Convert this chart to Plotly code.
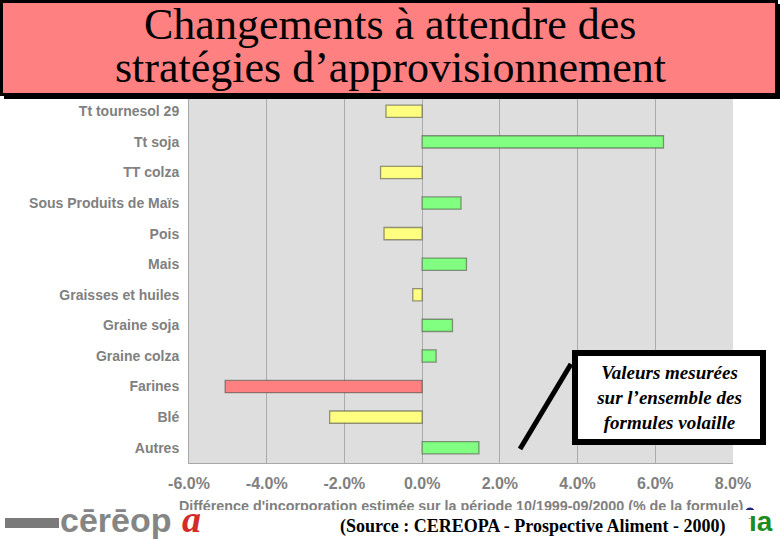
import plotly.graph_objects as go

# ---- data ----
categories = ["Tt tournesol 29", "Tt soja", "TT colza", "Sous Produits de Maïs", "Pois",
              "Mais", "Graisses et huiles", "Graine soja", "Graine colza", "Farines", "Blé", "Autres"]
values = [-0.93, 6.21, -1.07, 1.00, -0.98, 1.14, -0.24, 0.78, 0.36, -5.07, -2.38, 1.46]
x_ticks = [-6, -4, -2, 0, 2, 4, 6, 8]
x_tick_labels = ["-6.0%", "-4.0%", "-2.0%", "0.0%", "2.0%", "4.0%", "6.0%", "8.0%"]

title_line1 = "Changements à attendre des"
title_line2 = "stratégies d’approvisionnement"
axis_title = "Différence d'incorporation estimée sur la période 10/1999-09/2000 (% de la formule)"
note_text = "Valeurs mesurées<br>sur l’ensemble des<br>formules volaille"
source_text = "(Source : CEREOPA - Prospective Aliment - 2000)"

GREEN, YELLOW, RED = "#80FF80", "#FFFF80", "#FF8080"
colors = [GREEN if v >= 0 else (RED if v < -4 else YELLOW) for v in values]

W, H = 780, 540
L, R, T, B = 189, 47, 96, 77
PW, PH = W - L - R, H - T - B


def xp(px):
    return (px - L) / PW


def yp(py):
    return (H - B - py) / PH


fig = go.Figure(go.Bar(
    x=values, y=categories, orientation="h", width=0.4,
    marker=dict(color=colors, line=dict(color="rgba(70,70,60,0.55)", width=1.3)),
    hoverinfo="x+y",
))

gray = "#808080"
fig.update_layout(
    width=W, height=H,
    margin=dict(l=L, r=R, t=T, b=B),
    paper_bgcolor="white", plot_bgcolor="#DEDEDE",
    showlegend=False,
    font=dict(family="Liberation Sans, Arial", color=gray),
    xaxis=dict(range=[-6, 8], tickvals=x_ticks, ticktext=x_tick_labels,
               showgrid=True, gridcolor="#ABABAB", gridwidth=1, zeroline=False,
               showline=True, linecolor="#A8A8A8", linewidth=1,
               ticks="outside", ticklen=6, tickcolor="rgba(0,0,0,0)",
               tickfont=dict(size=16, color=gray, weight="bold"), fixedrange=True),
    yaxis=dict(categoryorder="array", categoryarray=categories, autorange="reversed",
               showgrid=False, zeroline=False, showline=True, linecolor="#A8A8A8", linewidth=1,
               ticks="outside", ticklen=6, tickcolor="rgba(0,0,0,0)",
               tickfont=dict(size=14, color=gray, weight="bold"), fixedrange=True),
)

shapes = [
    # title shadow + box
    dict(type="rect", xref="paper", yref="paper", x0=xp(4), x1=xp(780), y0=yp(4), y1=yp(99),
         fillcolor="black", line=dict(width=0), layer="above"),
    dict(type="rect", xref="paper", yref="paper", x0=xp(1.5), x1=xp(776.5), y0=yp(1.5), y1=yp(94.5),
         fillcolor="#FF8080", line=dict(color="black", width=3), layer="above"),
    # pointer line of the note
    dict(type="line", xref="paper", yref="paper", x0=xp(571), y0=yp(364), x1=xp(520), y1=yp(449),
         line=dict(color="black", width=5), layer="above"),
    # left logo bar (approximation)
    dict(type="rect", xref="paper", yref="paper", x0=xp(5), x1=xp(59), y0=yp(518), y1=yp(528),
         fillcolor="#7a7a7a", line=dict(width=0), layer="above"),
    # right logo dot
    dict(type="circle", xref="paper", yref="paper", x0=xp(745), x1=xp(755), y0=yp(518), y1=yp(508),
         fillcolor="#1A237E", line=dict(color="#1A237E", width=1), layer="above"),
]
fig.update_layout(shapes=shapes)

ann = []
# title lines
ann.append(dict(text=title_line1, xref="paper", yref="paper", x=xp(390), y=yp(24.5),
                xanchor="center", yanchor="middle", showarrow=False,
                font=dict(family="Liberation Serif, Times New Roman", size=44, color="black")))
ann.append(dict(text=title_line2, xref="paper", yref="paper", x=xp(390), y=yp(67),
                xanchor="center", yanchor="middle", showarrow=False,
                font=dict(family="Liberation Serif, Times New Roman", size=44, color="black")))
# x-axis title (partly hidden by the bottom strip)
ann.append(dict(text=axis_title, xref="paper", yref="paper", x=xp(461), y=yp(506.5),
                xanchor="center", yanchor="middle", showarrow=False,
                font=dict(family="Liberation Sans, Arial", size=14.3, color=gray, weight="bold")))
# white strip covering the lower part of the axis title
ann.append(dict(text=" ", xref="paper", yref="paper", x=xp(461), y=yp(509.5), width=590, height=8,
                xanchor="center", yanchor="top", showarrow=False, bgcolor="white",
                borderpad=0, borderwidth=0))
# note box
ann.append(dict(text="<b><i>" + note_text + "</i></b>", xref="paper", yref="paper",
                x=xp(669), y=yp(397.5), xanchor="center", yanchor="middle",
                width=182, height=83, align="center", valign="middle", showarrow=False,
                bgcolor="white", bordercolor="black", borderwidth=6, borderpad=0,
                font=dict(family="Liberation Serif, Times New Roman", size=19, color="black")))
# source
ann.append(dict(text="<b>" + source_text + "</b>", xref="paper", yref="paper",
                x=xp(532), y=yp(526), xanchor="center", yanchor="middle", showarrow=False,
                font=dict(family="Liberation Sans, Arial", size=1, color="white"),
                visible=False))
ann[-1].update(font=dict(family="Liberation Serif, Times New Roman", size=18, color="black"), visible=True)
# left logo (approximation)
ann.append(dict(text="<b>cērēop</b>", xref="paper", yref="paper", x=xp(58), y=yp(520),
                xanchor="left", yanchor="middle", showarrow=False,
                font=dict(family="Liberation Sans, Arial", size=34, color="#858585")))
ann.append(dict(text="<b><i>a</i></b>", xref="paper", yref="paper", x=xp(180), y=yp(519),
                xanchor="left", yanchor="middle", showarrow=False,
                font=dict(family="Liberation Serif, Times New Roman", size=38, color="#D42A2A")))
# right logo (approximation)
ann.append(dict(text="<b>ıa</b>", xref="paper", yref="paper", x=xp(761), y=yp(521),
                xanchor="center", yanchor="middle", showarrow=False,
                font=dict(family="Liberation Sans, Arial", size=28, color="#1E8C1E")))
fig.update_layout(annotations=ann)

fig.write_html("out.html", config={"displayModeBar": False},
               post_script="document.body.style.margin='0';document.body.style.overflow='hidden';")
